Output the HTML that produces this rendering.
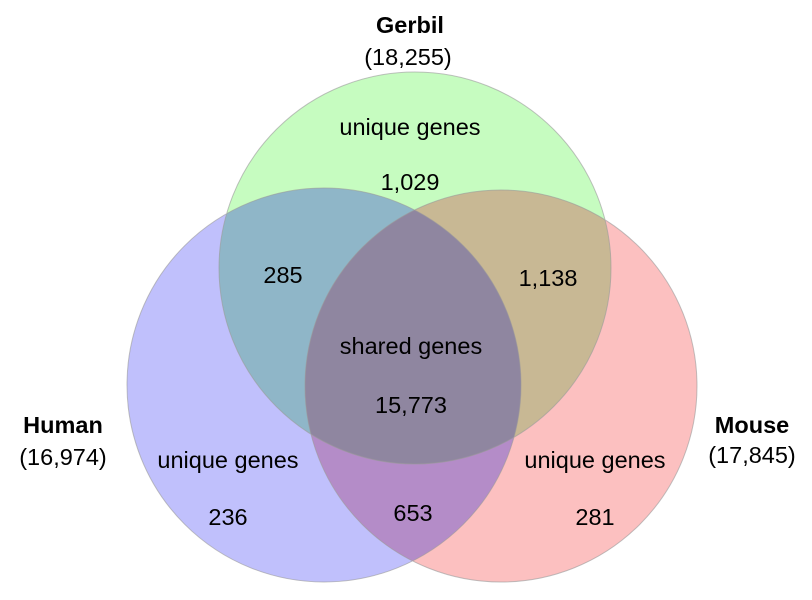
<!DOCTYPE html>
<html><head><style>body{margin:0;background:#fff}svg{display:block}</style></head><body>
<svg width="812" height="600" viewBox="0 0 812 600" xmlns="http://www.w3.org/2000/svg" font-family="Liberation Sans, Arial, sans-serif" font-size="23.5" text-anchor="middle">
<defs>
<clipPath id="cA"><circle cx="415" cy="268" r="196"/></clipPath>
<clipPath id="cB"><circle cx="324" cy="385" r="197"/></clipPath>
<clipPath id="cC"><circle cx="501" cy="386" r="196"/></clipPath>
</defs>
<circle cx="324" cy="385" r="197" fill="#c0c0fc"/>
<circle cx="501" cy="386" r="196" fill="#fcc0c0"/>
<circle cx="415" cy="268" r="196" fill="#c6fcc0"/>
<g clip-path="url(#cA)"><circle cx="324" cy="385" r="197" fill="#8fb6c8"/><circle cx="501" cy="386" r="196" fill="#c8b894"/></g>
<g clip-path="url(#cC)"><circle cx="324" cy="385" r="197" fill="#b48cc8"/></g>
<g clip-path="url(#cC)"><g clip-path="url(#cA)"><circle cx="324" cy="385" r="197" fill="#8f86a0"/></g></g>
<g fill="none" stroke="#999" stroke-width="1" opacity="0.6">
<circle cx="324" cy="385" r="197"/><circle cx="501" cy="386" r="196"/><circle cx="415" cy="268" r="196"/></g>
<g fill="#000">
<text x="410" y="33" font-weight="bold">Gerbil</text>
<text x="408" y="65">(18,255)</text>
<text x="410" y="135">unique genes</text>
<text x="410" y="190">1,029</text>
<text x="283" y="283">285</text>
<text x="548" y="286">1,138</text>
<text x="411" y="354">shared genes</text>
<text x="411" y="413">15,773</text>
<text x="63" y="433" font-weight="bold">Human</text>
<text x="63" y="465">(16,974)</text>
<text x="228" y="468">unique genes</text>
<text x="228" y="525">236</text>
<text x="413" y="521">653</text>
<text x="595" y="468">unique genes</text>
<text x="595" y="525">281</text>
<text x="752" y="433" font-weight="bold">Mouse</text>
<text x="752" y="463">(17,845)</text>
</g>
</svg>
</body></html>
